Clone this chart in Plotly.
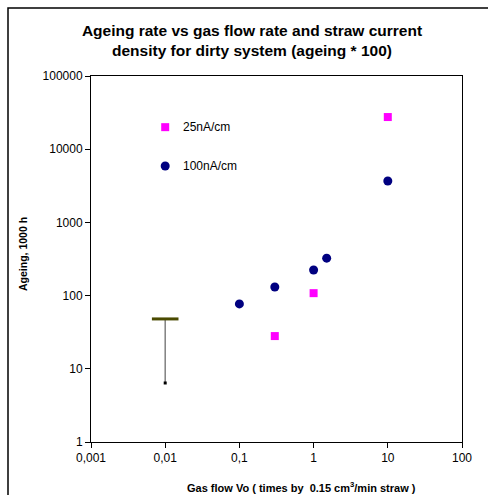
import math
import plotly.graph_objects as go

# Data
flow_25 = [0.3, 1, 10]
ageing_25 = [28, 108, 27500]
flow_100 = [0.1, 0.3, 1, 1.5, 10]
ageing_100 = [77, 131, 224, 325, 3680]
# fake legend points (drawn as data in the original)
legend_x = [0.01, 0.01]
legend_y = [20000, 5900]
legend_labels = ["25nA/cm", "100nA/cm"]
# single error-bar-like mark at 0.01
bar_x = [0.01, 0.01]
bar_y = [48, 6.4]

x_ticks = [0.001, 0.01, 0.1, 1, 10, 100]
x_ticktext = ["0,001", "0,01", "0,1", "1", "10", "100"]
y_ticks = [1, 10, 100, 1000, 10000, 100000]
y_ticktext = ["1", "10", "100", "1000", "10000", "100000"]

MAG = "#ff00ff"
NAVY = "#000080"
FONT = "Liberation Sans, Arial, sans-serif"

fig = go.Figure()
fig.add_trace(go.Scatter(x=flow_25, y=ageing_25, mode="markers",
                         marker=dict(symbol="square", size=8, color=MAG)))
fig.add_trace(go.Scatter(x=flow_100, y=ageing_100, mode="markers",
                         marker=dict(symbol="circle", size=9, color=NAVY)))
fig.add_trace(go.Scatter(x=[legend_x[0]], y=[legend_y[0]], mode="markers",
                         marker=dict(symbol="square", size=8, color=MAG)))
fig.add_trace(go.Scatter(x=[legend_x[1]], y=[legend_y[1]], mode="markers",
                         marker=dict(symbol="circle", size=9, color=NAVY)))
fig.add_trace(go.Scatter(x=bar_x, y=bar_y, mode="lines",
                         line=dict(color="#808080", width=1.5)))
fig.add_trace(go.Scatter(x=[bar_x[1]], y=[bar_y[1]], mode="markers",
                         marker=dict(symbol="square", size=3, color="black")))
fig.add_trace(go.Scatter(x=[bar_x[0]], y=[bar_y[0]], mode="markers",
                         marker=dict(symbol="line-ew", size=19,
                                     line=dict(color="#4a4a00", width=3))))

for lx, ly, lt in zip(legend_x, legend_y, legend_labels):
    fig.add_annotation(x=math.log10(lx), y=math.log10(ly), xref="x", yref="y", text=lt,
                       showarrow=False, xanchor="left", xshift=16,
                       font=dict(family=FONT, size=12, color="black"))

fig.add_annotation(xref="paper", yref="paper", x=(301 - 91) / 371, y=(442 - 487) / 366,
                   text="<b>Gas flow Vo ( times by  0.15 cm<sup>3</sup>/min straw )</b>",
                   showarrow=False, xanchor="center", yanchor="middle",
                   font=dict(family=FONT, size=11, color="black"))
fig.add_annotation(xref="paper", yref="paper", x=(23 - 91) / 371, y=(442 - 254) / 366,
                   text="<b>Ageing, 1000 h</b>", textangle=-90,
                   showarrow=False, xanchor="center", yanchor="middle",
                   font=dict(family=FONT, size=10.5, color="black"))

# outer chart border
fig.add_shape(type="rect", xref="paper", yref="paper",
              x0=(8 - 91) / 371, x1=(492 - 91) / 371,
              y0=(442 - 498) / 366, y1=(442 - 8) / 366,
              line=dict(color="black", width=1.5), layer="below")

fig.update_layout(
    width=488, height=495,
    margin=dict(l=91, r=26, t=76, b=53),
    paper_bgcolor="white", plot_bgcolor="white",
    showlegend=False,
    title=dict(text="<b>Ageing rate vs gas flow rate and straw current<br>density for dirty system (ageing * 100)</b>",
               x=252 / 488, xref="container", xanchor="center",
               y=1 - 36 / 495, yref="container", yanchor="middle",
               font=dict(family=FONT, size=15.5, color="black")),
    font=dict(family=FONT, size=12, color="black"),
)
fig.update_xaxes(type="log", range=[-3, 2], tickvals=x_ticks, ticktext=x_ticktext,
                 showgrid=False, zeroline=False, showline=True, linecolor="black",
                 linewidth=1, mirror=True, ticks="outside", ticklen=5, tickcolor="black",
                 tickfont=dict(family=FONT, size=12, color="black"))
fig.update_yaxes(type="log", range=[0, 5], tickvals=y_ticks, ticktext=y_ticktext,
                 showgrid=False, zeroline=False, showline=True, linecolor="black",
                 linewidth=1, mirror=True, ticks="outside", ticklen=5, tickcolor="black",
                 tickfont=dict(family=FONT, size=12, color="black"))

fig.write_html("out.html")
